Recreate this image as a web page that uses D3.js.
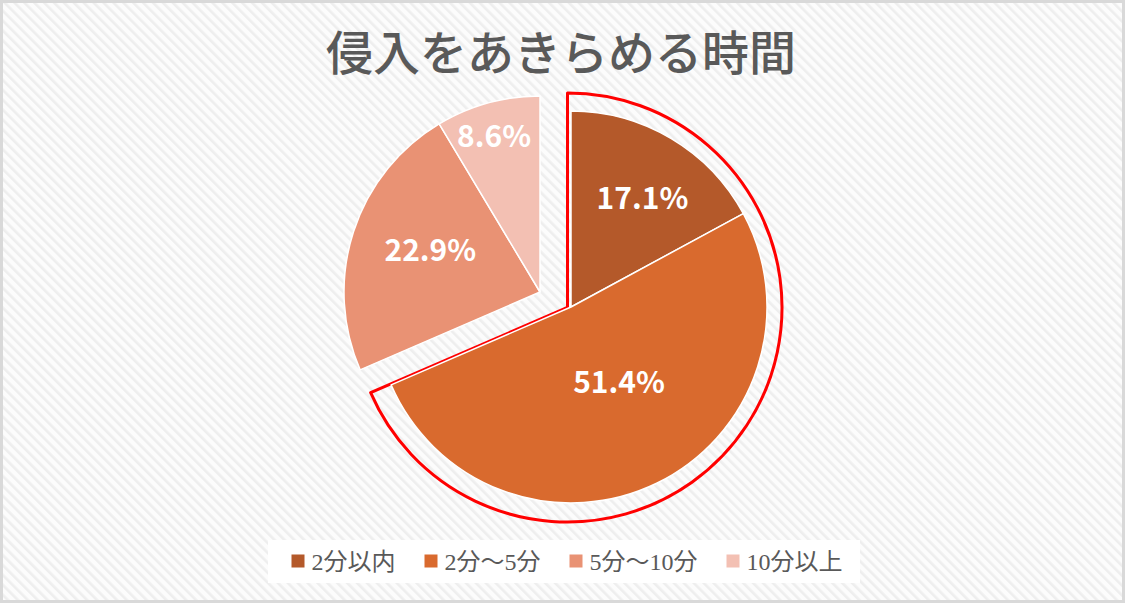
<!DOCTYPE html>
<html>
<head>
<meta charset="utf-8">
<script src="https://cdn.jsdelivr.net/npm/d3@7"></script>
<style>
  html, body { margin: 0; padding: 0; background: #ffffff; }
  svg { display: block; }
</style>
</head>
<body>
<svg id="chart" width="1125" height="603"></svg>
<script>
// ---- data ----
const title = "侵入をあきらめる時間";
const categories = ["2分以内", "2分～5分", "5分～10分", "10分以上"];
const values = [17.1, 51.4, 22.9, 8.6];
const labels = ["17.1%", "51.4%", "22.9%", "8.6%"];
const colors = ["#B4592A", "#D96A2E", "#E99274", "#F3C0B3"];
// which exploded group each slice belongs to (0 = highlighted group on the right)
const groupOf = [0, 0, 1, 1];

// ---- layout ----
const W = 1125, H = 603;
const radius = 196;
const groupCenters = [[571, 307], [540, 292]];
const highlightCenter = [567.5, 307.5];
const highlightRadius = 214.5;
const labelRadiusFrac = [0.665, 0.455, 0.60, 0.83];
const labelAngleFrac = [0.54, 0.464, 0.54, 0.47];

const svg = d3.select("#chart");
const defs = svg.append("defs");
const pat = defs.append("pattern")
  .attr("id", "stripes")
  .attr("patternUnits", "userSpaceOnUse")
  .attr("width", 7).attr("height", 7)
  .attr("patternTransform", "rotate(-45)");
pat.append("rect").attr("width", 7).attr("height", 7).attr("fill", "#fcfcfc");
pat.append("rect").attr("width", 2.6).attr("height", 7).attr("fill", "#eeeeee");

svg.append("rect").attr("x", 0).attr("y", 0).attr("width", W).attr("height", H)
  .attr("fill", "url(#stripes)");
svg.append("rect").attr("x", 1.5).attr("y", 1.5).attr("width", W - 3).attr("height", H - 3)
  .attr("fill", "none").attr("stroke", "#d9d9d9").attr("stroke-width", 3);

// title
svg.append("text")
  .attr("x", 561).attr("y", 53.5 + 0.36 * 47)
  .attr("text-anchor", "middle")
  .attr("font-family", "'Noto Sans CJK JP', 'Noto Sans', sans-serif")
  .attr("font-weight", 500)
  .attr("font-size", 47)
  .attr("fill", "#595959")
  .text(title);

// pie
const pie = d3.pie().sort(null).value(d => d)(values);
const arc = d3.arc().innerRadius(0).outerRadius(radius);

// highlight outline (group 0 extent)
const g0 = pie.filter((p, i) => groupOf[i] === 0);
const hlArc = d3.arc().innerRadius(0).outerRadius(highlightRadius)({
  startAngle: d3.min(g0, p => p.startAngle),
  endAngle: d3.max(g0, p => p.endAngle)
});
svg.append("path")
  .attr("transform", `translate(${highlightCenter[0]},${highlightCenter[1]})`)
  .attr("d", hlArc)
  .attr("fill", "none")
  .attr("stroke", "#FF0000")
  .attr("stroke-width", 3)
  .attr("stroke-linejoin", "round");

const slices = svg.append("g").selectAll("g").data(pie).join("g")
  .attr("transform", (d, i) => `translate(${groupCenters[groupOf[i]][0]},${groupCenters[groupOf[i]][1]})`);

slices.append("path")
  .attr("d", arc)
  .attr("fill", (d, i) => colors[i])
  .attr("stroke", "#ffffff")
  .attr("stroke-width", 1.5)
  .attr("stroke-linejoin", "round");

const labelFs = 30;
slices.append("text")
  .attr("x", (d, i) => {
    const a = d.startAngle + labelAngleFrac[i] * (d.endAngle - d.startAngle);
    return Math.sin(a) * radius * labelRadiusFrac[i];
  })
  .attr("y", (d, i) => {
    const a = d.startAngle + labelAngleFrac[i] * (d.endAngle - d.startAngle);
    return -Math.cos(a) * radius * labelRadiusFrac[i] + 0.367 * labelFs;
  })
  .attr("text-anchor", "middle")
  .attr("font-family", "'Noto Sans CJK JP', 'Open Sans', sans-serif")
  .attr("font-weight", 700)
  .attr("font-size", labelFs)
  .attr("fill", "#ffffff")
  .text((d, i) => labels[i]);

// legend
svg.append("rect").attr("x", 268).attr("y", 540).attr("width", 592).attr("height", 43)
  .attr("fill", "#ffffff");
const lg = svg.append("g");
const legendFs = 24;
const sq = 13;
const items = lg.selectAll("g").data(categories).join("g");
items.append("rect").attr("width", sq).attr("height", sq).attr("y", -sq / 2)
  .attr("fill", (d, i) => colors[i]);
items.append("text")
  .attr("x", sq + 7)
  .attr("y", 0.36 * legendFs)
  .attr("font-family", "'Liberation Serif', 'Noto Sans CJK JP', serif")
  .attr("font-size", legendFs)
  .attr("fill", "#595959")
  .text(d => d);
let xPos = 0;
items.each(function () {
  const t = d3.select(this).select("text").node().getComputedTextLength();
  d3.select(this).attr("transform", `translate(${xPos},0)`);
  xPos += sq + 7 + t + 29;
});
const totalW = xPos - 29;
lg.attr("transform", `translate(${567 - totalW / 2},561)`);
</script>
</body>
</html>
